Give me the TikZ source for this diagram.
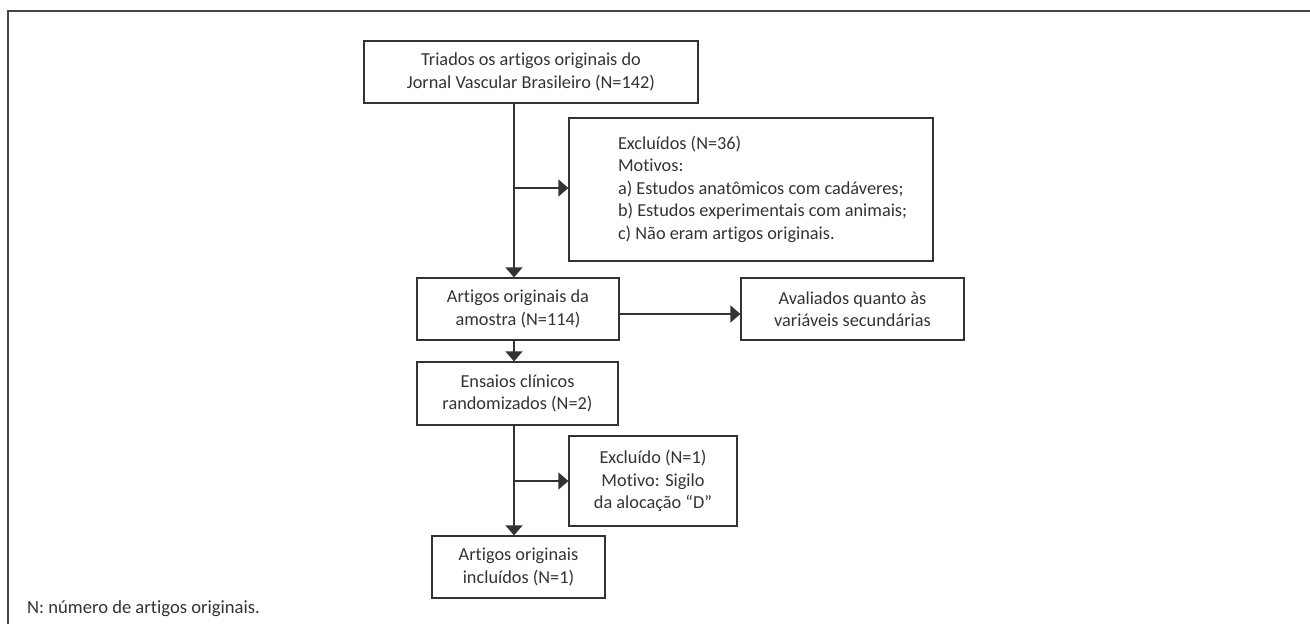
\documentclass[tikz,border=0pt]{standalone}
\usepackage{fontspec}
\setmainfont{Carlito}[Ligatures={TeX,NoCommon}]
\usetikzlibrary{arrows.meta}
\definecolor{ink}{HTML}{333333}
\definecolor{framec}{HTML}{444444}
\begin{document}
\begin{tikzpicture}[x=1pt,y=-1pt,
  box/.style={draw=ink, line width=1.2pt, text=ink, align=center, inner sep=0pt,
    font=\fontsize{18.3}{22.5}\selectfont},
  conn/.style={draw=ink, line width=1.2pt, -{Triangle[length=10pt,width=17pt]}},
  note/.style={text=ink, inner sep=0pt, font=\fontsize{18.6}{20}\selectfont}]
\useasboundingbox (0,0) rectangle (1310,624);
\draw[framec, line width=2pt] (8,624) -- (8,11) -- (1310,11);

\node[box, minimum width=334pt, minimum height=62pt] (b1) at (531,72)
  {Triados os artigos originais do\\ Jornal Vascular Brasileiro (N=142)};
\node[box, minimum width=364pt, minimum height=143pt] (b2) at (751,189.5)
  {\makebox[266pt][l]{\begin{tabular}{@{}l@{}}Excluídos (N=36)\\ Motivos:\\
   a) Estudos anatômicos com cadáveres;\\ b) Estudos experimentais com animais;\\
   c) Não eram artigos originais.\end{tabular}}};
\node[box, minimum width=202pt, minimum height=62pt] (b3) at (518,309)
  {Artigos originais da\\ amostra (N=114)};
\node[box, minimum width=223pt, minimum height=62pt] (b4) at (852.5,309)
  {Avaliados quanto às\\ variáveis secundárias};
\node[box, minimum width=201pt, minimum height=63pt] (b5) at (517.5,393.5)
  {Ensaios clínicos\\ randomizados (N=2)};
\node[box, minimum width=168pt, minimum height=90pt] (b6) at (653,481)
  {Excluído (N=1)\\ Motivo: Sigilo\\ da alocação “D”};
\node[box, minimum width=173pt, minimum height=62pt] (b7) at (518.5,567)
  {Artigos originais\\ incluídos (N=1)};
\node[note, anchor=west] (fn) at (27,609) {N: número de artigos originais.};

\coordinate (m) at (514,0);
\coordinate (j1) at (514,188);
\coordinate (r) at (0,314);
\coordinate (j2) at (514,481);

\draw[conn] (b1.south -| m) -- (b3.north -| m);
\draw[conn] (j1) -- (j1 -| b2.west);
\draw[conn] (b3.east |- r) -- (b4.west |- r);
\draw[conn] (b3.south -| m) -- (b5.north -| m);
\draw[conn] (b5.south -| m) -- (b7.north -| m);
\draw[conn] (j2) -- (j2 -| b6.west);
\end{tikzpicture}
\end{document}
